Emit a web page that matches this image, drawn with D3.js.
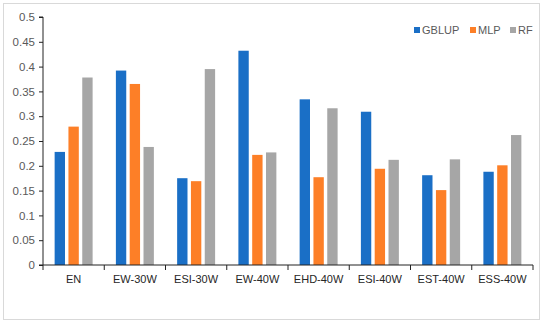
<!DOCTYPE html>
<html><head><meta charset="utf-8">
<script src="https://cdn.jsdelivr.net/npm/d3@7"></script>
<style>body{margin:0;background:#fff}svg{display:block;font-family:"Liberation Sans",Arial,sans-serif}</style>
</head><body><svg id="c" width="550" height="323"></svg>
<script>
const categories = ["EN","EW-30W","ESI-30W","EW-40W","EHD-40W","ESI-40W","EST-40W","ESS-40W"];
const seriesNames = ["GBLUP","MLP","RF"];
const gblup = [0.228,0.392,0.175,0.432,0.334,0.309,0.181,0.188];
const mlp   = [0.279,0.365,0.169,0.222,0.177,0.194,0.151,0.201];
const rf    = [0.378,0.238,0.395,0.227,0.316,0.212,0.213,0.262];
const yTicks = [0,0.05,0.1,0.15,0.2,0.25,0.3,0.35,0.4,0.45,0.5];
const colors = ["#1a6fc6","#fd7f27","#a6a6a6"];

const values = [gblup, mlp, rf];
const svg = d3.select("#c");
svg.append("rect").attr("x",3.5).attr("y",3.5).attr("width",536).attr("height",316)
  .attr("fill","#fff").attr("stroke","#d9d9d9");

const L=43, R=533, T=17, B=265;
const x = d3.scaleBand().domain(categories).range([L,R]).paddingInner(0.38).paddingOuter(0.19);
const xs = d3.scaleBand().domain(seriesNames).range([0,x.bandwidth()]).paddingInner(0.25);
const y = d3.scaleLinear().domain([0,0.5]).range([B,T]);

const g = svg.append("g");
seriesNames.forEach((s,si)=>{
  g.selectAll(null).data(categories).enter().append("rect")
    .attr("x",c=>x(c)+xs(s)).attr("width",xs.bandwidth())
    .attr("y",(c,i)=>y(values[si][i])).attr("height",(c,i)=>B-y(values[si][i]))
    .attr("fill",colors[si]);
});

// y axis
const ya = svg.append("g").attr("transform",`translate(${L},0)`)
  .call(d3.axisLeft(y).tickValues(yTicks).tickFormat(d=>String(+d.toFixed(2))).tickSize(4).tickPadding(4));
ya.select(".domain").attr("stroke","#222").attr("d",`M-4,${T}H0V${B}`);
ya.selectAll(".tick line").attr("stroke","#222");
ya.selectAll(".tick text").attr("fill","#595959").style("font-size","11.5px").style("font-family","Liberation Sans, Arial, sans-serif");

// x axis
const xa = svg.append("g").attr("transform",`translate(0,${B})`);
xa.append("line").attr("x1",L-4).attr("x2",R).attr("stroke","#222");
const step = (R-L)/categories.length;
xa.selectAll(null).data(d3.range(categories.length+1)).enter().append("line")
  .attr("x1",i=>L+i*step).attr("x2",i=>L+i*step).attr("y1",0).attr("y2",5).attr("stroke","#222");
xa.selectAll(null).data(categories).enter().append("text")
  .attr("x",c=>x(c)+x.bandwidth()/2).attr("y",18).attr("text-anchor","middle")
  .attr("fill","#262626").style("font-size","11px").text(c=>c);

// legend
const legX=[414,470,510];
const lg = svg.append("g");
seriesNames.forEach((s,i)=>{
  lg.append("rect").attr("x",legX[i]).attr("y",27).attr("width",6).attr("height",6).attr("fill",colors[i]);
  lg.append("text").attr("x",legX[i]+8).attr("y",34).attr("fill","#595959").style("font-size","11px").text(s);
});
</script></body></html>
